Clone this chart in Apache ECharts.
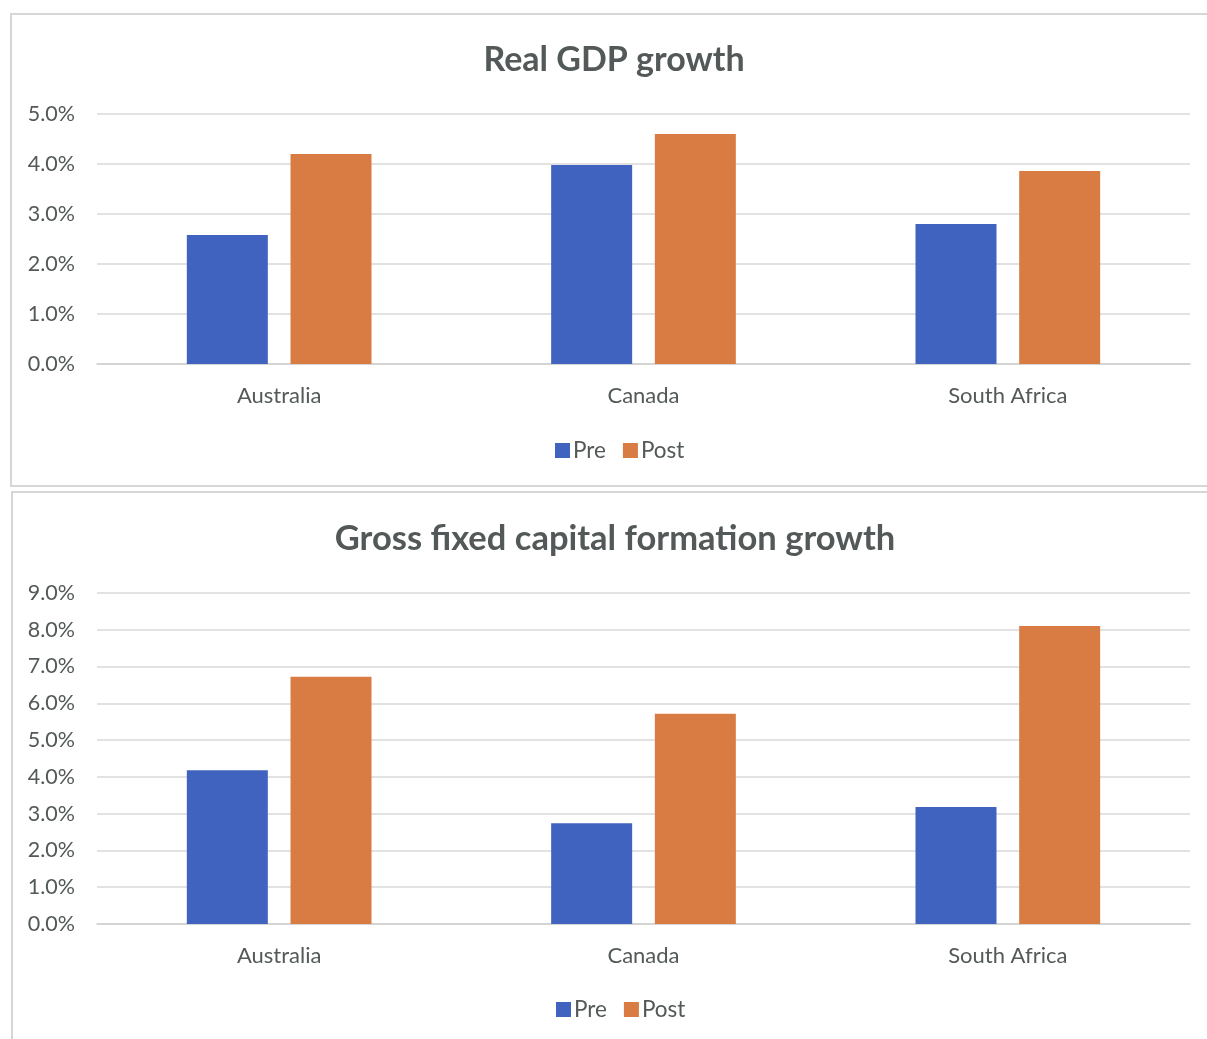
<!DOCTYPE html>
<html lang="en">
<head>
  <meta charset="UTF-8">
  <title>GDP and GFCF growth</title>
  <style>
    html,body{margin:0;padding:0;background:#fff;}
    #main{width:1207px;height:1039px;}
  </style>
</head>
<body>
  <div id="main"></div>
  <script src="https://cdn.jsdelivr.net/npm/echarts@6/dist/echarts.min.js"></script>
  <script>
    const countries=['Australia','Canada','South Africa'];
    const gdpPre=[2.58,3.98,2.8];
    const gdpPost=[4.2,4.6,3.86];
    const gfcfPre=[4.18,2.74,3.18];
    const gfcfPost=[6.72,5.72,8.1];

    const blue='#4163c0';
    const orange='#d97c44';
    const grey='#535858';
    const font='Lato';

    const chart=echarts.init(document.querySelector('#main'));

    function catAxis(i){
      return {
        type:'category',
        gridIndex:i,
        data:countries,
        axisTick:{show:false},
        axisLine:{lineStyle:{color:'#d0d0d0',width:1.5}},
        axisLabel:{color:grey,fontSize:22,fontFamily:font,margin:21}
      };
    }
    function valAxis(i,max){
      return {
        type:'value',
        gridIndex:i,
        min:0,
        max:max,
        interval:1,
        axisLabel:{
          color:grey,fontSize:21.5,fontFamily:font,margin:22,
          formatter:v=>v.toFixed(1)+'%'
        },
        splitLine:{lineStyle:{color:'#d9d9d9',width:1.5}}
      };
    }
    function bars(name,data,color,i){
      return {
        name:name,
        type:'bar',
        xAxisIndex:i,
        yAxisIndex:i,
        data:data,
        barWidth:81,
        barGap:'28%',
        itemStyle:{color:color}
      };
    }
    function legend(left,top){
      return {data:['Pre','Post'],left:left,top:top,padding:0,icon:'rect',
        itemWidth:15,itemHeight:15,itemGap:17,
        textStyle:{color:grey,fontSize:22.5,fontFamily:font,padding:[0,0,0,-2]}};
    }

    const option={
      animation:false,
      title:[
        {text:'Real GDP growth',left:614,top:43,padding:0,textAlign:'center',
          textStyle:{color:grey,fontSize:34,fontWeight:'bold',fontFamily:font}},
        {text:'Gross fixed capital formation growth',left:615,top:521,padding:0,textAlign:'center',
          textStyle:{color:grey,fontSize:34.5,fontWeight:'bold',fontFamily:font}}
      ],
      legend:[legend(555,439),legend(556,998)],
      grid:[
        {left:97,right:17,top:114,height:250},
        {left:97,right:17,top:593,height:331}
      ],
      xAxis:[catAxis(0),catAxis(1)],
      yAxis:[valAxis(0,5),valAxis(1,9)],
      series:[
        bars('Pre',gdpPre,blue,0),
        bars('Post',gdpPost,orange,0),
        bars('Pre',gfcfPre,blue,1),
        bars('Post',gfcfPost,orange,1)
      ],
      graphic:[
        {type:'rect',shape:{x:11,y:14,width:1210,height:472},
          style:{fill:null,stroke:'#d6d6d6',lineWidth:2},silent:true},
        {type:'rect',shape:{x:12,y:492,width:1210,height:560},
          style:{fill:null,stroke:'#d6d6d6',lineWidth:2},silent:true}
      ]
    };
    chart.setOption(option);
  </script>
</body>
</html>
